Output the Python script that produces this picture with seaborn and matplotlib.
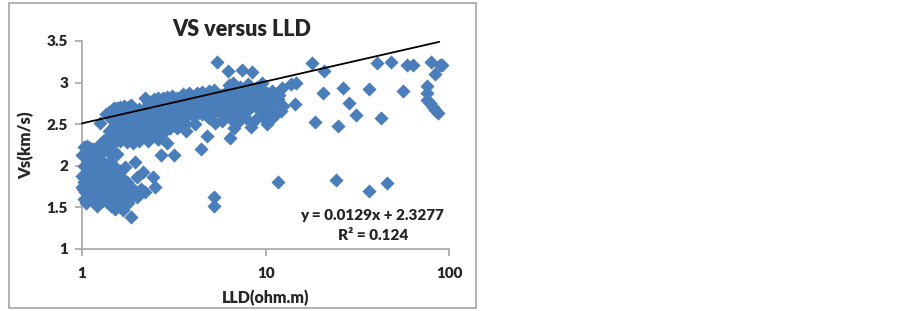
import pandas as pd
import seaborn as sns
import matplotlib.pyplot as plt
from matplotlib.patches import Rectangle
from matplotlib.ticker import NullLocator, FixedLocator, FixedFormatter

# sparse points on the right
sparse_lld = [17.8, 20.7, 40.2, 48.2, 58.5, 63.5, 79.6, 88.8, 91.0, 83.7, 75.7, 75.2, 55.8, 36.6, 26.3, 20.5,
              13.8, 14.6, 12.2, 14.4, 28.3, 31.0, 42.2, 18.6, 24.6, 75.7, 78.3, 81.0, 83.7, 86.9, 11.6, 24.1,
              36.6, 45.5, 12.1, 10.2, 5.43, 6.2, 7.4, 8.4, 5.2, 5.2, 4.45, 4.8, 2.7, 3.18, 3.7, 6.4, 8.3, 1.25]
sparse_vs = [3.23, 3.14, 3.24, 3.25, 3.21, 3.21, 3.25, 3.21, 3.21, 3.10, 2.96, 2.88, 2.90, 2.92, 2.94, 2.88,
             2.98, 2.99, 2.94, 2.74, 2.75, 2.61, 2.58, 2.53, 2.48, 2.79, 2.75, 2.71, 2.67, 2.63, 1.81, 1.83,
             1.70, 1.79, 2.66, 2.50, 3.25, 3.14, 3.15, 3.13, 1.63, 1.52, 2.20, 2.36, 2.13, 2.13, 2.42, 2.34, 2.47, 2.52]

# upper band, 1.3 to 12 ohm.m
band_lld = [1.35, 1.4, 1.45, 1.5, 1.55, 1.62, 1.7, 1.78, 1.85, 2.2, 2.3, 2.45, 2.6, 2.75, 2.9, 3.1, 3.3, 3.55, 3.8, 4.2,
            4.5, 4.9, 5.2, 5.7, 6.3, 6.6, 7.2, 8.0, 8.9, 9.6,
            1.45, 1.55, 1.65, 1.75, 1.9, 2.05, 2.2, 2.35, 2.5, 2.7, 2.9, 3.1, 3.35, 3.6, 3.9, 4.2, 4.6, 5.0, 5.5, 6.0,
            6.5, 7.0, 7.6, 8.2, 8.8, 9.5, 10.2, 10.8, 11.2, 11.8,
            1.4, 1.5, 1.6, 1.72, 1.85, 2.0, 2.15, 2.3, 2.5, 2.7, 2.95, 3.2, 3.45, 3.7, 4.0, 4.4, 4.8, 5.2, 5.7, 6.2,
            6.8, 7.3, 7.9, 8.5, 9.1, 9.8, 10.4, 11.0, 11.6, 12.4,
            1.3, 1.38, 1.48, 1.58, 1.68, 1.8, 1.95, 2.1, 2.3, 2.5, 2.75, 3.0, 3.25, 3.55, 3.85, 4.3, 4.7, 5.1, 5.6, 6.1,
            6.6, 7.1, 7.7, 8.4, 9.0, 9.7, 10.3, 10.9,
            1.25, 1.35, 1.45, 1.55, 1.65, 1.8, 1.95, 2.1, 2.25, 2.45, 2.65, 2.85, 3.05, 3.3, 3.6, 4.0, 4.5, 5.0, 5.4, 6.0,
            6.5, 7.0, 7.5, 8.1, 8.7, 9.3, 9.9, 10.6,
            1.2, 1.3, 1.4, 1.5, 1.62, 1.75, 1.9, 2.05, 2.2, 2.4, 2.55, 2.75, 3.0, 3.4, 5.3, 5.8, 6.4, 7.0, 7.8, 8.9, 9.5,
            2.6, 2.9, 4.1, 4.9, 6.7, 10.7, 11.3,
            1.7, 1.85, 2.0, 2.2, 2.4, 2.65, 3.0, 3.4, 4.2, 4.6, 5.5, 6.8, 7.4, 9.2, 2.3, 2.6, 3.7, 3.3]
band_vs = [2.62, 2.65, 2.67, 2.69, 2.70, 2.71, 2.72, 2.71, 2.73, 2.81, 2.77, 2.80, 2.81, 2.82, 2.83, 2.84, 2.82, 2.86,
           2.87, 2.88, 2.89, 2.90, 2.91, 2.85, 2.97, 3.00, 2.95, 2.98, 2.94, 3.00,
           2.55, 2.60, 2.62, 2.64, 2.66, 2.68, 2.70, 2.72, 2.74, 2.75, 2.77, 2.76, 2.78, 2.80, 2.81, 2.83, 2.85, 2.86, 2.84,
           2.88, 2.90, 2.89, 2.92, 2.90, 2.93, 2.91, 2.88, 2.90, 2.86, 2.85,
           2.42, 2.48, 2.52, 2.56, 2.60, 2.62, 2.64, 2.66, 2.68, 2.66, 2.69, 2.70, 2.72, 2.74, 2.75, 2.78, 2.80, 2.76, 2.79,
           2.82, 2.84, 2.82, 2.86, 2.83, 2.86, 2.84, 2.82, 2.78, 2.80, 2.72,
           2.30, 2.35, 2.40, 2.44, 2.47, 2.50, 2.54, 2.56, 2.58, 2.60, 2.58, 2.60, 2.62, 2.64, 2.66, 2.70, 2.72, 2.70, 2.74,
           2.76, 2.72, 2.75, 2.78, 2.76, 2.78, 2.76, 2.74, 2.68,
           2.24, 2.27, 2.30, 2.33, 2.36, 2.38, 2.42, 2.45, 2.47, 2.50, 2.52, 2.50, 2.54, 2.56, 2.58, 2.60, 2.62, 2.62, 2.66,
           2.66, 2.62, 2.68, 2.70, 2.68, 2.72, 2.68, 2.64, 2.60,
           2.22, 2.24, 2.26, 2.28, 2.30, 2.29, 2.27, 2.30, 2.36, 2.40, 2.44, 2.40, 2.46, 2.50, 2.52, 2.54, 2.58, 2.52, 2.58,
           2.56, 2.60, 2.32, 2.27, 2.50, 2.58, 2.46, 2.56, 2.62,
           2.50, 2.42, 2.35, 2.42, 2.52, 2.42, 2.50, 2.56, 2.62, 2.66, 2.66, 2.64, 2.60, 2.72, 2.30, 2.32, 2.50, 2.46]

# lower cluster near the y axis
low_lld = [1.0, 1.0, 1.0, 1.02, 1.05, 1.21, 1.67, 1.85, 1.94, 2.15, 2.43, 2.5, 1.99, 2.2, 1.78, 1.6,
           1.03, 1.06, 1.1, 1.15, 1.22, 1.3, 1.38, 1.46, 1.55, 1.05, 1.09, 1.14, 1.2, 1.27, 1.33, 1.42, 1.5,
           1.02, 1.07, 1.13, 1.19, 1.25, 1.35, 1.44, 1.52, 1.6, 1.04, 1.1, 1.16, 1.23, 1.31, 1.4, 1.48, 1.56, 1.64,
           1.01, 1.08, 1.12, 1.18, 1.26, 1.34, 1.41, 1.5, 1.58, 1.68, 1.76, 1.06, 1.11, 1.17, 1.24, 1.32, 1.39, 1.47,
           1.55, 1.63, 1.72, 1.82, 1.9, 1.04, 1.09, 1.15, 1.28, 1.36, 1.45, 1.53, 1.62, 1.7, 1.8, 2.0, 1.03, 1.1, 1.2,
           1.3, 1.43, 1.51, 1.59, 1.66, 1.75, 1.5, 1.42, 1.35, 1.57, 1.65, 1.74, 1.08, 1.16, 1.27,
           1.7, 1.8, 1.9, 2.1, 1.62, 1.72]
low_vs = [2.13, 1.88, 1.75, 1.60, 1.55, 1.52, 1.47, 1.39, 2.05, 1.93, 1.87, 1.75, 1.63, 1.68, 1.55, 1.50,
          2.22, 2.24, 2.21, 2.20, 2.22, 2.20, 2.18, 2.16, 2.14, 2.10, 2.08, 2.04, 2.08, 2.06, 2.02, 2.06, 2.00,
          2.00, 1.97, 1.95, 1.98, 1.94, 1.96, 1.92, 1.90, 1.94, 1.84, 1.88, 1.84, 1.86, 1.82, 1.88, 1.84, 1.80, 1.86,
          1.72, 1.74, 1.76, 1.72, 1.76, 1.74, 1.72, 1.76, 1.72, 1.76, 1.80, 1.62, 1.66, 1.64, 1.66, 1.66, 1.62, 1.66,
          1.64, 1.68, 1.66, 1.70, 1.72, 1.68, 1.60, 1.58, 1.58, 1.56, 1.56, 1.56, 1.56, 1.58, 1.60, 1.86, 1.80, 1.82,
          1.78, 1.80, 1.52, 1.48, 1.54, 1.60, 1.62, 1.98, 1.78, 1.70, 1.70, 1.74, 1.68, 2.16, 2.12, 2.14,
          1.60, 1.62, 1.66, 1.72, 1.92, 1.98]

trend_lld = [1, 88]
trend_vs = [2.51, 3.49]
x_ticks = [1, 10, 100]
y_ticks = [1, 1.5, 2, 2.5, 3, 3.5]
y_labels = ['1', '1.5', '2', '2.5', '3', '3.5']

df = pd.DataFrame({'lld': sparse_lld + band_lld + low_lld, 'vs': sparse_vs + band_vs + low_vs})

sns.set_style('white')
plt.rcParams['font.family'] = ['Lato', 'DejaVu Sans']
plt.rcParams['font.weight'] = 800

fig = plt.figure(figsize=(9.03, 3.11), dpi=100)
ax = fig.add_axes([82 / 903, 1 - 249 / 311, (449.5 - 82) / 903, (249 - 41) / 311])
fig.patches.append(Rectangle((9 / 903, 3 / 311), 467 / 903, 305 / 311, transform=fig.transFigure,
                             fill=False, ec='#a6a6a6', lw=1.2))

sns.scatterplot(data=df, x='lld', y='vs', ax=ax, marker='D', s=52, color='#4a7ebb', edgecolor='#4a7ebb',
                linewidth=0, alpha=1, clip_on=False, zorder=3)
sns.lineplot(x=trend_lld, y=trend_vs, ax=ax, color='black', lw=1.3, zorder=4, clip_on=False, errorbar=None)

ax.set_xscale('log')
ax.set_xlim(1, 100)
ax.set_ylim(1, 3.5)
ax.xaxis.set_major_locator(FixedLocator(x_ticks))
ax.xaxis.set_major_formatter(FixedFormatter(['1', '10', '100']))
ax.xaxis.set_minor_locator(NullLocator())
ax.set_yticks(y_ticks, y_labels)
ax.tick_params(axis='both', length=5, width=1.2, color='#a6a6a6', direction='out', bottom=True, left=True,
               labelsize=11)
ax.tick_params(axis='x', pad=8)
ax.tick_params(axis='y', pad=5)
for side in ['top', 'right']:
    ax.spines[side].set_visible(False)
for side in ['left', 'bottom']:
    ax.spines[side].set_color('#a6a6a6')
    ax.spines[side].set_linewidth(1.2)

ax.set_xlabel('LLD(ohm.m)', fontsize=11.5, fontweight=800, labelpad=7)
ax.set_ylabel('Vs(km/s)', fontsize=12, fontweight=800, labelpad=9)
fig.text(242 / 903, 1 - 30 / 311, 'VS versus LLD', ha='center', va='center', fontsize=15.5, fontweight=800)
fig.text(372 / 903, 1 - 216 / 311, 'y = 0.0129x + 2.3277', ha='center', va='center', fontsize=11, fontweight=800)
fig.text(373 / 903, 1 - 236 / 311, 'R² = 0.124', ha='center', va='center', fontsize=11, fontweight=800)

fig.savefig('out.png', dpi=100)
